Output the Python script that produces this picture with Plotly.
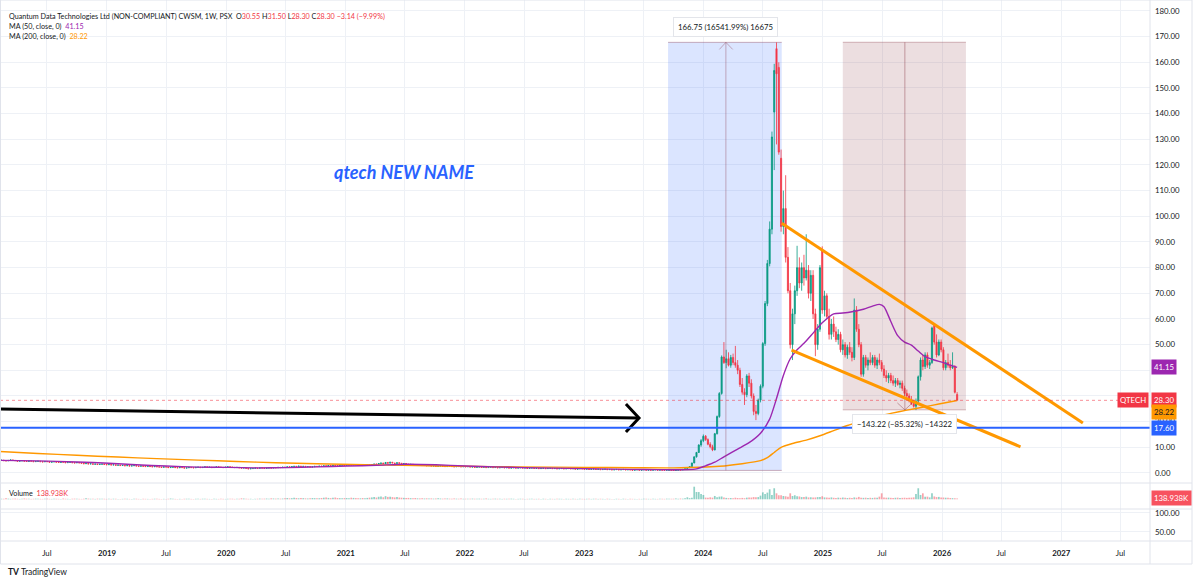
import pandas as pd
import plotly.graph_objects as go

# ---------------- DATA ----------------
# flat period: weekly closes from 2018-02-05 to 2023-09-25
flat_start = "2018-02-05"
flat_close_2018 = [4.9,5.0,4.8,4.7,4.9,5.1,4.9,4.8,4.6,4.7,4.8,4.6,4.5,4.7,4.6,4.4,4.5,4.6,4.4,4.3,4.5,4.4,4.2,4.3,4.4,4.2,4.1,4.3,4.2,4.0,4.1,4.2,4.0,3.9,4.1,3.9,3.8,3.6,3.7,3.5,3.6,3.4,3.5,3.3,3.4,3.5,3.3,3.2]
flat_close_2019 = [3.3,3.1,3.2,3.0,3.1,2.9,3.0,2.8,2.9,2.7,2.8,2.9,2.7,2.6,2.8,2.6,2.5,2.7,2.5,2.4,2.6,2.4,2.3,2.2,2.4,2.3,2.1,2.2,2.3,2.1,2.0,2.2,2.1,1.9,2.0,2.2,2.1,2.0,2.2,2.3,2.1,2.2,2.4,2.2,2.3,2.1,2.2,2.4,2.3,2.2,2.1,2.3]
flat_close_2020 = [2.4,2.3,2.2,2.1,2.2,2.0,1.9,2.0,1.8,1.6,1.7,1.8,1.9,1.8,2.0,1.9,1.8,1.9,2.0,1.9,2.1,2.0,2.2,2.1,2.3,2.2,2.4,2.3,2.5,2.6,2.4,2.7,2.5,2.6,2.4,2.5,2.3,2.4,2.6,2.5,2.7,2.6,2.8,2.7,2.9,2.8,3.0,2.9,2.8,3.0,3.1,2.9]
flat_close_2021 = [3.0,3.2,3.1,3.3,3.2,3.0,3.1,2.9,3.0,3.2,3.1,3.3,3.5,3.4,3.7,3.9,3.6,4.1,3.8,4.2,3.9,3.7,4.0,3.8,3.6,3.7,3.5,3.3,3.4,3.2,3.1,3.2,3.0,2.9,3.0,2.8,2.9,2.7,2.8,2.6,2.7,2.8,2.6,2.5,2.7,2.6,2.5,2.4,2.6,2.5,2.4,2.5]
flat_close_2022 = [2.4,2.5,2.3,2.4,2.2,2.3,2.4,2.2,2.3,2.1,2.2,2.3,2.1,2.2,2.0,2.1,2.2,2.0,2.1,1.9,2.0,2.1,1.9,2.0,2.1,1.9,2.0,1.8,1.9,2.0,1.8,1.9,1.7,1.8,1.9,1.7,1.8,1.9,1.7,1.8,1.6,1.7,1.8,1.6,1.7,1.8,1.6,1.7,1.5,1.6,1.7,1.6]
flat_close_2023 = [1.5,1.6,1.4,1.5,1.6,1.4,1.5,1.3,1.4,1.5,1.3,1.4,1.2,1.3,1.4,1.2,1.3,1.4,1.2,1.3,1.2,1.1,1.2,1.3,1.1,1.2,1.3,1.1,1.2,1.1,1.2,1.3,1.1,1.2,1.1,1.05,1.1,1.2,1.1]

flat_vol_2018 = [120,90,80,150,100,70,90,110,80,60,100,130,90,70,60,80,100,90,70,60,80,110,70,60,90,80,70,60,120,80,70,60,90,100,80,70,60,90,150,110,80,70,60,100,90,70,80,60]
flat_vol_2019 = [70,60,90,80,60,50,70,100,80,60,50,70,90,60,50,80,70,60,50,70,90,80,60,50,70,60,80,120,90,60,50,70,60,80,90,70,60,50,80,70,60,90,100,70,60,50,80,70,60,90,70,60]
flat_vol_2020 = [80,70,90,60,100,80,150,120,90,70,80,60,70,90,110,80,100,120,90,150,130,110,140,100,120,160,200,150,180,250,200,160,220,180,150,130,160,200,180,150,170,210,250,300,220,180,250,280,200,180,160,190]
flat_vol_2021 = [200,180,250,220,190,170,160,200,180,220,260,300,350,280,400,450,320,500,380,420,350,300,380,280,250,230,200,220,180,160,200,150,140,170,130,150,120,140,110,130,150,120,100,110,130,100,90,120,100,90,110,80]
flat_vol_2022 = [90,100,80,110,90,70,100,80,90,120,80,70,90,100,80,70,60,90,80,70,100,80,60,70,90,80,60,70,80,90,60,70,80,60,90,70,60,80,70,60,90,80,70,60,80,70,60,90,70,60,80,70]
flat_vol_2023 = [60,80,70,60,90,70,60,80,70,60,90,70,60,50,80,70,60,90,70,60,80,70,60,50,70,60,90,80,70,60,80,70,60,90,80,70,100,90,80]

# active period: weekly OHLC from 2023-10-02 to 2026-02-16
act_open = [1.10,1.05,1.12,1.20,1.18,1.40,1.65,2.05,2.50,3.90,
            6.30,8.00,10.90,12.60,14.30,13.00,11.20,10.20,9.00,15.30,
            22.00,31.00,45.20,43.00,44.50,42.00,45.00,43.00,42.00,40.00,
            34.50,31.50,30.50,37.80,35.00,30.00,24.00,23.20,28.40,33.80,
            50.40,66.00,81.60,95.00,140.60,165.30,158.00,122.60,96.00,103.00,
            84.00,71.00,50.00,62.00,71.00,80.00,74.00,80.00,76.00,79.00,
            70.00,77.00,62.00,50.00,56.00,86.50,63.50,69.00,61.00,54.00,
            58.00,55.00,52.00,54.00,48.00,50.00,46.00,49.00,47.00,45.00,
            63.50,56.00,50.00,38.50,45.00,42.00,44.00,43.00,45.00,42.00,
            44.00,43.00,40.50,38.00,37.00,38.00,36.00,35.00,36.00,34.50,
            35.00,33.00,31.00,30.00,28.50,27.00,26.00,28.00,37.50,44.00,
            41.50,46.00,42.00,43.00,57.50,51.00,46.00,51.00,48.00,41.00,
            43.00,42.00,41.00,41.50,30.55]
act_high = [1.20,1.15,1.25,1.30,1.45,1.70,2.10,2.60,4.00,6.40,
            8.20,11.20,13.20,15.00,14.80,13.50,12.00,11.00,15.60,22.40,
            31.50,45.80,51.00,48.00,47.00,46.00,46.50,49.50,44.00,41.00,
            37.00,33.00,38.50,39.00,36.50,31.00,26.50,29.00,34.50,51.00,
            67.00,83.00,98.00,133.00,159.40,167.75,160.00,126.00,110.00,116.00,
            88.00,74.00,64.00,73.00,88.50,84.00,82.00,85.00,93.00,81.00,
            79.00,79.00,64.00,58.00,81.00,88.30,71.00,70.00,64.00,60.00,
            61.00,57.00,56.00,55.00,52.00,51.00,50.00,51.00,49.00,68.00,
            65.00,58.00,51.00,46.00,46.00,45.00,47.00,46.00,46.00,45.00,
            46.50,44.00,42.00,40.00,39.00,39.00,38.00,37.00,37.00,36.00,
            36.00,34.00,32.50,31.00,30.00,28.50,29.00,38.00,45.00,46.00,
            47.00,47.00,44.00,57.00,58.40,54.00,52.00,52.00,49.00,44.00,
            46.50,44.00,47.00,42.00,31.50]
act_low = [1.00,1.00,1.05,1.10,1.15,1.35,1.60,1.95,2.45,3.80,
           6.00,7.80,10.20,12.00,12.50,10.80,9.60,8.50,8.80,15.00,
           21.50,30.50,42.50,40.80,41.50,41.00,42.00,41.00,38.50,33.50,
           30.50,26.50,29.50,33.50,29.00,22.50,20.60,22.50,27.50,33.00,
           49.50,65.00,80.50,93.00,118.00,128.00,124.00,94.00,93.00,82.00,
           70.00,48.50,44.00,58.00,69.00,72.00,71.00,73.00,75.00,68.00,
           67.00,60.00,45.50,48.00,55.00,62.00,61.00,60.00,52.00,52.00,
           53.00,51.00,50.00,47.00,46.00,45.00,44.50,46.00,43.50,44.00,
           55.00,49.00,37.50,37.50,41.00,40.00,42.00,42.00,41.00,40.50,
           42.00,39.50,37.00,35.50,35.00,35.00,34.00,33.50,34.00,33.00,
           32.00,30.00,29.00,27.50,26.50,25.50,24.50,27.00,36.00,40.00,
           40.50,41.00,40.50,42.50,50.00,45.00,45.50,47.00,40.00,40.00,
           41.00,40.00,40.50,31.00,28.30]
act_close = [1.05,1.12,1.20,1.18,1.40,1.65,2.05,2.50,3.90,6.30,
             8.00,10.90,12.60,14.30,13.00,11.20,10.20,9.00,15.30,22.00,
             31.00,45.20,43.00,44.50,42.00,45.00,43.00,42.00,40.00,34.50,
             31.50,30.50,37.80,35.00,30.00,24.00,23.20,28.40,33.80,50.40,
             66.00,81.60,95.00,130.90,156.80,155.50,125.00,96.00,103.00,84.00,
             71.00,50.00,62.00,71.00,80.00,74.00,80.00,76.00,79.00,70.00,
             77.00,62.00,50.00,56.00,80.00,63.50,69.00,61.00,54.00,58.00,
             55.00,52.00,54.00,48.00,50.00,46.00,49.00,47.00,45.00,63.50,
             56.00,50.00,38.50,45.00,42.00,44.00,43.00,45.00,42.00,44.00,
             43.00,40.50,38.00,37.00,38.00,36.00,35.00,36.00,34.50,35.00,
             33.00,31.00,30.00,28.50,27.00,26.00,28.00,37.50,44.00,41.50,
             46.00,42.00,43.00,56.50,51.00,46.00,51.00,48.00,41.00,43.00,
             42.00,41.00,41.50,31.44,28.30]
act_volume = [90,110,80,120,100,150,320,180,250,2000,
              1160,1150,850,690,270,240,310,260,530,330,
              420,450,300,220,180,200,160,250,200,180,
              220,170,260,300,280,350,330,350,580,1100,
              850,1060,1590,690,1750,950,640,640,520,480,
              400,950,520,640,480,450,350,380,420,300,
              320,280,300,350,350,480,300,280,250,300,
              240,220,260,230,280,250,200,240,220,300,
              250,380,260,230,250,210,240,220,260,230,
              420,950,280,250,260,230,220,240,260,210,
              230,250,220,240,260,300,850,1750,690,950,
              420,420,300,950,450,350,380,300,280,250,
              230,200,180,160,138.938]

# moving averages
ma50_dates = ["2018-02-05","2018-06-04","2018-10-01","2019-01-07","2019-04-01","2019-07-01","2019-10-07","2020-01-06","2020-04-06","2020-07-06",
              "2020-10-05","2021-01-04","2021-04-05","2021-07-05","2021-10-04","2022-01-03","2022-04-04","2022-07-04","2022-10-03","2023-01-02",
              "2023-04-03","2023-07-03","2023-10-02","2023-11-13","2023-12-11","2024-01-08","2024-02-05","2024-03-04","2024-04-15","2024-05-20",
              "2024-06-24","2024-07-22","2024-08-12","2024-09-02","2024-09-23","2024-10-14","2024-11-04","2024-12-02","2024-12-30","2025-02-03",
              "2025-03-03","2025-03-31","2025-05-05","2025-06-02","2025-06-23","2025-07-07","2025-07-28","2025-08-18","2025-09-08","2025-09-29",
              "2025-10-20","2025-11-10","2025-12-08","2026-01-05","2026-01-26","2026-02-16"]
ma50_vals = [4.9,4.7,4.3,3.8,3.2,2.7,2.3,2.2,2.0,2.1,
             2.4,2.7,3.0,3.4,3.2,2.7,2.4,2.1,1.9,1.7,
             1.5,1.35,1.25,1.3,1.6,2.8,4.2,6.3,9.3,11.8,
             15.5,21.0,29.0,38.0,44.5,48.0,50.5,54.5,58.5,62.0,
             62.3,62.8,63.8,65.0,65.7,64.8,59.0,53.5,51.0,49.8,
             47.5,45.3,44.0,43.0,42.0,41.15]
ma200_dates = ["2018-02-05","2018-06-04","2018-10-01","2019-02-04","2019-06-03","2019-10-07","2020-02-03","2020-06-01","2020-10-05","2021-03-01",
               "2021-08-02","2022-01-03","2022-06-06","2023-01-02","2023-06-05","2023-10-02","2024-02-19","2024-04-29","2024-06-24","2024-07-15",
               "2024-08-05","2024-08-26","2024-09-30","2024-11-11","2024-12-23","2025-02-03","2025-03-17","2025-04-28","2025-06-09","2025-07-28",
               "2025-09-15","2025-11-10","2025-12-22","2026-02-16"]
ma200_vals = [8.4,7.6,6.9,6.2,5.6,5.0,4.5,4.0,3.6,3.2,
              2.9,2.6,2.4,2.2,2.05,2.0,2.6,3.6,4.8,6.0,
              8.0,10.0,11.5,12.8,14.5,16.5,18.5,20.2,21.8,23.2,
              24.5,25.8,26.9,28.22]

# drawings
support_level = 17.60
up_range_dates = ["2023-09-15", "2024-03-10", "2024-08-28"]
up_range_prices = [1.01, 167.76]
up_range_head_dates = ["2024-02-19", "2024-03-10", "2024-03-31"]
up_range_head_prices = [165.0, 167.76, 165.0]
up_range_label = "166.75 (16541.99%) 16675"
up_label_pos = ("2024-03-10", 173.7)
down_range_dates = ["2025-03-03", "2025-09-09", "2026-03-15"]
down_range_prices = [24.6, 167.8]
down_range_head_dates = ["2025-08-17", "2025-09-09", "2025-10-02"]
down_range_head_prices = [27.3, 24.6, 27.3]
down_range_label = "\u2212143.22 (\u221285.32%) \u221214322"
down_label_pos = ("2025-09-09", 19.1)
wedge_upper_dates = ["2024-08-28", "2027-03-08"]
wedge_upper_prices = [97.3, 19.5]
wedge_lower_dates = ["2024-09-27", "2026-08-29"]
wedge_lower_prices = [47.9, 10.2]
arrow_dates = ["2018-02-07", "2023-06-18"]
arrow_prices = [24.9, 21.4]
arrow_head_dates = ["2023-05-09", "2023-06-18", "2023-05-09"]
arrow_head_prices = [26.9, 21.4, 16.0]
note_text = "qtech NEW NAME"
note_pos = ("2021-06-28", 117.3)

x_tick_dates = ["2018-07-01","2019-01-01","2019-07-01","2020-01-01","2020-07-01","2021-01-01","2021-07-01","2022-01-01","2022-07-01",
                "2023-01-01","2023-07-01","2024-01-01","2024-07-01","2025-01-01","2025-07-01","2026-01-01","2026-07-01","2027-01-01","2027-07-01"]
x_tick_text = ["Jul","2019","Jul","2020","Jul","2021","Jul","2022","Jul","2023","Jul","2024","Jul","2025","Jul","2026","Jul","2027","Jul"]
x_range = ["2018-02-07 14:00", "2027-09-29 12:00"]
price_range = [-3.9, 184.26]
price_ticks = [0,10,20,30,40,50,60,70,80,90,100,110,120,130,140,150,160,170,180]
hidden_price_labels = [30, 40]   # covered by the price badges in the reference
vol_range = [-1540, 2587]
lower_pane_range = [26.3, 110.5]
lower_pane_ticks = [50, 100]

# ---------------- BUILD ----------------
flat_close = flat_close_2018 + flat_close_2019 + flat_close_2020 + flat_close_2021 + flat_close_2022 + flat_close_2023
flat_vol = flat_vol_2018 + flat_vol_2019 + flat_vol_2020 + flat_vol_2021 + flat_vol_2022 + flat_vol_2023
flat_open = [flat_close[0]] + flat_close[:-1]
flat_high = [max(o, c) for o, c in zip(flat_open, flat_close)]
flat_low = [min(o, c) for o, c in zip(flat_open, flat_close)]

O = flat_open + act_open
H = flat_high + act_high
L = flat_low + act_low
C = flat_close + act_close
V = flat_vol + act_volume
dates = pd.date_range(flat_start, periods=len(C), freq="7D")

GREEN = "#089981"
RED = "#f23645"
TXT = "#131722"
GRID = "#eef1f6"
FONT = "Lato, 'Liberation Sans', sans-serif"
FS = 7.8

PW, PH_PLOT = 1200, 541
x_right = 1150 / PW
ydom_price = [58 / PH_PLOT, 1]
ydom_vol = [32 / PH_PLOT, 58 / PH_PLOT]
ydom_low = [0, 32 / PH_PLOT]

fig = go.Figure()

fig.add_trace(go.Candlestick(
    x=dates, open=O, high=H, low=L, close=C, xaxis="x", yaxis="y",
    increasing=dict(line=dict(color=GREEN, width=0.8), fillcolor=GREEN),
    decreasing=dict(line=dict(color=RED, width=0.8), fillcolor=RED),
    whiskerwidth=0, hoverinfo="skip"))

vol_colors = ["rgba(8,153,129,0.45)" if c >= o else "rgba(242,54,69,0.45)" for o, c in zip(O, C)]
fig.add_trace(go.Bar(x=dates, y=V, marker=dict(color=vol_colors, line=dict(width=0)),
                     xaxis="x2", yaxis="y2", hoverinfo="skip"))

fig.add_trace(go.Scatter(x=[dates[0]], y=[None], xaxis="x3", yaxis="y3", mode="lines", hoverinfo="skip"))

# moving averages
fig.add_trace(go.Scatter(x=ma200_dates, y=ma200_vals, mode="lines", xaxis="x", yaxis="y",
                         line=dict(color="#ff9800", width=1.4, shape="spline", smoothing=0.7), hoverinfo="skip"))
fig.add_trace(go.Scatter(x=ma50_dates, y=ma50_vals, mode="lines", xaxis="x", yaxis="y",
                         line=dict(color="#9c27b0", width=1.4, shape="spline", smoothing=0.7), hoverinfo="skip"))

# range tool arrows
RANGE_LINE = "rgba(150,85,105,0.45)"
fig.add_trace(go.Scatter(x=[up_range_dates[1], up_range_dates[1]], y=up_range_prices, mode="lines",
                         line=dict(color=RANGE_LINE, width=1), hoverinfo="skip"))
fig.add_trace(go.Scatter(x=up_range_head_dates, y=up_range_head_prices, mode="lines",
                         line=dict(color=RANGE_LINE, width=1), hoverinfo="skip"))
fig.add_trace(go.Scatter(x=[down_range_dates[1], down_range_dates[1]], y=down_range_prices, mode="lines",
                         line=dict(color="rgba(140,60,70,0.45)", width=1), hoverinfo="skip"))
fig.add_trace(go.Scatter(x=down_range_head_dates, y=down_range_head_prices, mode="lines",
                         line=dict(color="rgba(140,60,70,0.45)", width=1), hoverinfo="skip"))

# wedge lines
for dx, py in [(wedge_upper_dates, wedge_upper_prices), (wedge_lower_dates, wedge_lower_prices)]:
    fig.add_trace(go.Scatter(x=dx, y=py, mode="lines", line=dict(color="#ff9800", width=3), hoverinfo="skip"))

# black arrow
fig.add_trace(go.Scatter(x=arrow_dates, y=arrow_prices, mode="lines", line=dict(color="#000000", width=3), hoverinfo="skip"))
fig.add_trace(go.Scatter(x=arrow_head_dates, y=arrow_head_prices, mode="lines", line=dict(color="#000000", width=3), hoverinfo="skip"))

shapes = []
# range rectangles
shapes.append(dict(type="rect", xref="x", yref="y", x0=up_range_dates[0], x1=up_range_dates[2],
                   y0=up_range_prices[0], y1=up_range_prices[1], fillcolor="rgba(41,98,255,0.17)",
                   line=dict(width=0), layer="between"))
for yv in up_range_prices:
    shapes.append(dict(type="line", xref="x", yref="y", x0=up_range_dates[0], x1=up_range_dates[2], y0=yv, y1=yv,
                       line=dict(color=RANGE_LINE, width=1), layer="between"))
shapes.append(dict(type="rect", xref="x", yref="y", x0=down_range_dates[0], x1=down_range_dates[2],
                   y0=down_range_prices[0], y1=down_range_prices[1], fillcolor="rgba(140,60,70,0.17)",
                   line=dict(width=0), layer="between"))
for yv in down_range_prices:
    shapes.append(dict(type="line", xref="x", yref="y", x0=down_range_dates[0], x1=down_range_dates[2], y0=yv, y1=yv,
                       line=dict(color="rgba(140,60,70,0.35)", width=1), layer="between"))
# last price dotted line and support level
shapes.append(dict(type="line", xref="paper", yref="y", x0=0, x1=1121 / PW, y0=C[-1], y1=C[-1],
                   line=dict(color="rgba(242,54,69,0.55)", width=1, dash="dot")))
shapes.append(dict(type="line", xref="paper", yref="y", x0=0, x1=x_right, y0=support_level, y1=support_level,
                   line=dict(color="#2962ff", width=2)))
# pane separators / frame
SEP = "#e0e3eb"
for yp in [ydom_price[0], ydom_vol[0], 0]:
    shapes.append(dict(type="line", xref="paper", yref="paper", x0=0, x1=1192 / PW, y0=yp, y1=yp,
                       line=dict(color=SEP, width=1)))
shapes.append(dict(type="line", xref="paper", yref="paper", x0=x_right, x1=x_right, y0=-23 / PH_PLOT, y1=1,
                   line=dict(color=SEP, width=1)))
shapes.append(dict(type="rect", xref="paper", yref="paper", x0=0.5 / PW, x1=1192 / PW, y0=-23 / PH_PLOT, y1=1,
                   line=dict(color=SEP, width=1), fillcolor="rgba(0,0,0,0)"))

annotations = []
def badge(text, yv, bg, fc="white", yref="y", xanchor="left", xpos=x_right + 0.5 / PW):
    annotations.append(dict(text=text, x=xpos, xref="paper", y=yv, yref=yref, xanchor=xanchor, yanchor="middle",
                            showarrow=False, bgcolor=bg, borderpad=2, font=dict(color=fc, size=FS, family=FONT)))

badge(f"{ma50_vals[-1]:.2f}", ma50_vals[-1], "#9c27b0")
badge(f"{C[-1]:.2f}", C[-1], RED)
badge("QTECH", C[-1], RED, xanchor="right", xpos=x_right - 1 / PW)
badge(f"{ma200_vals[-1]:.2f}", ma200_vals[-1] - 4.3, "#ff9800", fc=TXT)
badge(f"{support_level:.2f}", support_level, "#2962ff")
badge(f"{act_volume[-1]:.3f}K", act_volume[-1], "#f7525f", yref="y2")

def minus(s):
    return s.replace("-", "\u2212")

LEG_FS = 7.2
prev_c = C[-2]
chg = C[-1] - prev_c
pct = chg / prev_c * 100
red_span = lambda v: f"<span style='color:{RED}'>{v}</span>"
line1 = ("Quantum Data Technologies Ltd (NON-COMPLIANT) CWSM, 1W, PSX\u00a0\u00a0O" + red_span(f"{O[-1]:.2f}") +
         "\u00a0H" + red_span(f"{H[-1]:.2f}") + "\u00a0L" + red_span(f"{L[-1]:.2f}") +
         "\u00a0C" + red_span(f"{C[-1]:.2f}") + "\u00a0" + red_span(minus(f"{chg:.2f} ({pct:.2f}%)")))
line2 = "MA (50, close, 0)\u00a0\u00a0<span style='color:#9c27b0'>" + f"{ma50_vals[-1]:.2f}</span>"
line3 = "MA (200, close, 0)\u00a0\u00a0<span style='color:#ff9800'>" + f"{ma200_vals[-1]:.2f}</span>"
for txt, ypx in [(line1, 16), (line2, 27), (line3, 37)]:
    annotations.append(dict(text=txt, x=7 / PW, xref="paper", y=(PH_PLOT - ypx) / PH_PLOT, yref="paper",
                            xanchor="left", yanchor="middle", showarrow=False,
                            font=dict(color=TXT, size=LEG_FS, family=FONT)))

annotations.append(dict(text="Volume\u00a0\u00a0" + red_span(f"{act_volume[-1]:.3f}K"), x=7 / PW, xref="paper",
                        y=(PH_PLOT - 493) / PH_PLOT, yref="paper", xanchor="left", yanchor="middle",
                        showarrow=False, font=dict(color=TXT, size=LEG_FS, family=FONT)))

for txt, pos in [(up_range_label, up_label_pos), (down_range_label, down_label_pos)]:
    annotations.append(dict(text=txt, x=pos[0], y=pos[1], xref="x", yref="y", showarrow=False,
                            bgcolor="white", bordercolor="#e3e5ea", borderwidth=1, borderpad=4,
                            font=dict(color=TXT, size=FS, family=FONT)))

annotations.append(dict(text="<b><i>" + note_text + "</i></b>", x=note_pos[0], y=note_pos[1], xref="x", yref="y",
                        showarrow=False, font=dict(color="#2962ff", size=18, family=FONT)))

annotations.append(dict(text="<b>TV</b>\u00a0TradingView", x=6 / PW, xref="paper", y=(PH_PLOT - 572) / PH_PLOT,
                        yref="paper", xanchor="left", yanchor="middle", showarrow=False,
                        font=dict(color=TXT, size=8.5, family=FONT)))

ticktext_fmt = [f"<b>{t}</b>" if t.isdigit() else t for t in x_tick_text]
price_ticktext = ["" if v in hidden_price_labels else f"{v:.2f}" for v in price_ticks]
xcommon = dict(type="date", range=x_range, domain=[0, x_right], tickvals=x_tick_dates, showgrid=True,
               gridcolor=GRID, gridwidth=1, zeroline=False, showline=False, ticks="", fixedrange=True)

fig.update_layout(
    width=1200, height=584, margin=dict(l=0, r=0, t=0, b=43),
    paper_bgcolor="white", plot_bgcolor="white", showlegend=False, bargap=0.25,
    font=dict(family=FONT, size=FS, color=TXT),
    xaxis=dict(**xcommon, anchor="y", showticklabels=False, rangeslider=dict(visible=False)),
    xaxis2=dict(**xcommon, anchor="y2", matches="x", showticklabels=False),
    xaxis3=dict(**xcommon, anchor="y3", matches="x", showticklabels=True, ticktext=ticktext_fmt,
                ticklabelstandoff=6, tickfont=dict(size=FS, color=TXT, family=FONT)),
    yaxis=dict(domain=ydom_price, anchor="x", side="right", range=price_range, tickvals=price_ticks,
               ticktext=price_ticktext, showgrid=True, gridcolor=GRID, zeroline=False, ticks="",
               ticklabelstandoff=4, tickfont=dict(size=FS, color=TXT, family=FONT)),
    yaxis2=dict(domain=ydom_vol, anchor="x2", side="right", range=vol_range, showgrid=False,
                showticklabels=False, zeroline=False, ticks=""),
    yaxis3=dict(domain=ydom_low, anchor="x3", side="right", range=lower_pane_range, tickvals=lower_pane_ticks,
                tickformat=".2f", showgrid=True, gridcolor=GRID, zeroline=False, ticks="",
                ticklabelstandoff=4, tickfont=dict(size=FS, color=TXT, family=FONT)),
    shapes=shapes, annotations=annotations,
)

fig.write_html("out.html")
